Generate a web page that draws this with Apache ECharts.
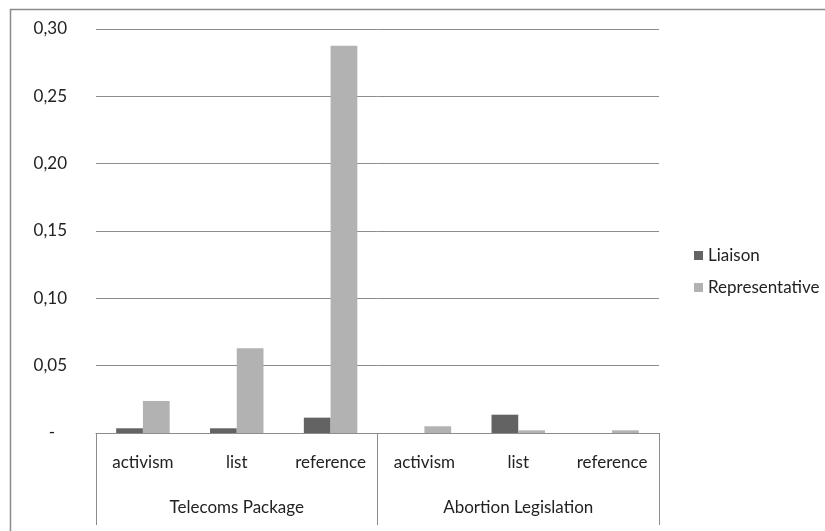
<!DOCTYPE html>
<html>
<head>
<meta charset="utf-8">
<script src="https://cdn.jsdelivr.net/npm/echarts@6/dist/echarts.min.js"></script>
<style>html,body{margin:0;padding:0;background:#fff}#c{width:825px;height:531px}</style>
</head>
<body>
<div id="c"></div>
<script>
const subCategories = ["activism", "list", "reference", "activism", "list", "reference"];
const groups = ["Telecoms Package", "Abortion Legislation"];
const liaison = [0.0035, 0.0035, 0.0114, 0, 0.0136, 0];
const representative = [0.0238, 0.063, 0.2876, 0.005, 0.002, 0.002];
const yTicks = [0, 0.05, 0.10, 0.15, 0.20, 0.25, 0.30];

const FONT = "Lato";
const FS = 17;
const chart = echarts.init(document.getElementById('c'));
chart.setOption({
  animation: false,
  backgroundColor: '#fff',
  textStyle: { fontFamily: FONT },
  graphic: [{
    type: 'rect', left: 8, top: 7, silent: true,
    shape: { width: 840, height: 560 },
    style: { fill: 'none', stroke: '#8a8a8a', lineWidth: 1.5 }
  }],
  grid: { left: 96, right: 166, top: 29, bottom: 98, containLabel: false },
  legend: {
    orient: 'vertical', left: 689, top: 242,
    itemWidth: 9, itemHeight: 9, itemGap: 15,
    icon: 'rect',
    textStyle: { fontFamily: FONT, fontSize: FS, color: '#222' },
    data: ['Liaison', 'Representative']
  },
  xAxis: [{
    type: 'category', data: subCategories, position: 'bottom',
    axisLine: { lineStyle: { color: '#8c8c8c', width: 1 } },
    axisTick: { show: false },
    axisLabel: { interval: 0, margin: 21, fontFamily: FONT, fontSize: FS, color: '#222' }
  }, {
    type: 'category', data: groups, position: 'bottom',
    axisLine: { show: false },
    axisTick: { show: true, inside: false, length: 92, interval: 0, lineStyle: { color: '#8c8c8c' } },
    axisLabel: { interval: 0, margin: 66, fontFamily: FONT, fontSize: FS, color: '#222' }
  }],
  yAxis: {
    type: 'value', min: 0, max: 0.30, interval: 0.05,
    axisLine: { show: false }, axisTick: { show: false },
    splitLine: { lineStyle: { color: '#8c8c8c', width: 1 } },
    axisLabel: {
      margin: 29, fontFamily: FONT, fontSize: FS, color: '#222',
      formatter: v => {
        const t = yTicks.find(x => Math.abs(x - v) < 1e-9);
        if (t === 0) return '{d|-}';
        return v.toFixed(2).replace('.', ',');
      },
      rich: { d: { padding: [0, 12, 0, 0], fontFamily: FONT, fontSize: FS, color: '#222' } }
    }
  },
  series: [{
    name: 'Liaison', type: 'bar', xAxisIndex: 0, data: liaison,
    barGap: '0%', barCategoryGap: '43%',
    itemStyle: { color: '#636363' }
  }, {
    name: 'Representative', type: 'bar', xAxisIndex: 0, data: representative,
    barGap: '0%', barCategoryGap: '43%',
    itemStyle: { color: '#b2b2b2' }
  }]
});
</script>
</body>
</html>
